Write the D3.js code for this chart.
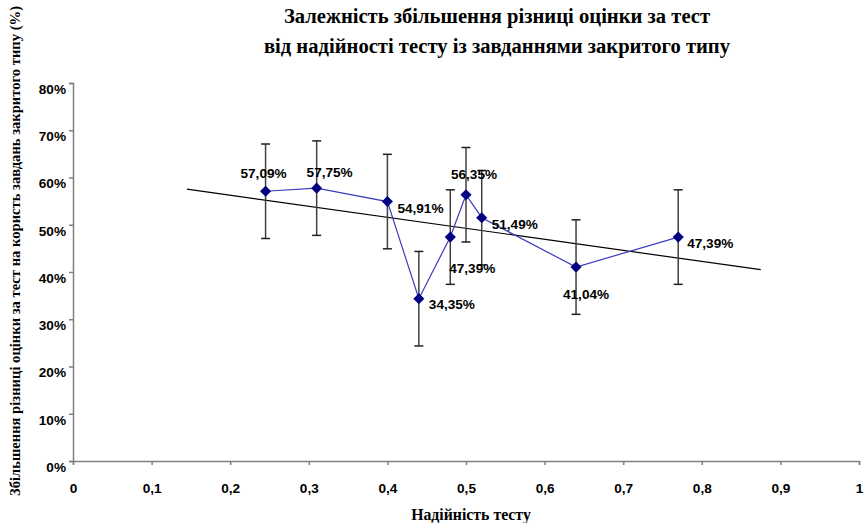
<!DOCTYPE html>
<html>
<head>
<meta charset="utf-8">
<script src="https://cdn.jsdelivr.net/npm/d3@7"></script>
<style>
  body { margin: 0; background: #fff; }
  svg { display: block; }
</style>
</head>
<body>
<svg id="chart" width="865" height="523"></svg>
<script>
// Test reliability (x) and gain in score difference, % (y)
const reliability = [0.245, 0.31, 0.40, 0.44, 0.48, 0.50, 0.52, 0.64, 0.77];
const gainPct = [57.09, 57.75, 54.91, 34.35, 47.39, 56.35, 51.49, 41.04, 47.39];
// Fixed-value error bars, percentage points
const errorPct = 10;
// Reliability range covered by the linear trend line
const trendRange = [0.145, 0.875];

const xTicks = [0, 0.1, 0.2, 0.3, 0.4, 0.5, 0.6, 0.7, 0.8, 0.9, 1];
const yTicks = [0, 10, 20, 30, 40, 50, 60, 70, 80];

const titleLines = [
  "Залежність збільшення різниці оцінки за тест",
  "від надійності тесту із завданнями закритого типу"
];
const xTitle = "Надійність тесту";
const yTitle = "Збільшення різниці оцінки за тест на користь завдань закритого типу (%)";

// Data label placement per point: [anchor, dx, dy] relative to the marker
const labelPlacement = [
  ["middle", -2, -18],
  ["middle", 13, -16],
  ["start", 10, 7],
  ["start", 10, 6],
  ["middle", 22, 31],
  ["middle", 8, -21],
  ["start", 10, 7],
  ["middle", 10, 27],
  ["start", 9, 6]
];

const svg = d3.select("#chart");
const sans = "'Liberation Sans', Arial, sans-serif";
const serif = "'Liberation Serif', 'Times New Roman', serif";

const x = d3.scaleLinear().domain([0, 1]).range([73, 859]);
const y = d3.scaleLinear().domain([0, 80]).range([461, 83]);

// Title
svg.append("g").selectAll("text").data(titleLines).join("text")
  .attr("x", 497)
  .attr("y", (d, i) => 23 + i * 30)
  .attr("text-anchor", "middle")
  .attr("font-family", serif)
  .attr("font-weight", "bold")
  .attr("font-size", 20.6)
  .attr("fill", "#000")
  .text(d => d);

// Axes
const fmtX = d => (d === 0 || d === 1) ? String(d) : d.toFixed(1).replace(".", ",");
const xAxis = svg.append("g")
  .attr("transform", `translate(0,${y(0)})`)
  .call(d3.axisBottom(x).tickValues(xTicks).tickSize(4).tickPadding(18).tickFormat(fmtX));
const yAxis = svg.append("g")
  .attr("transform", `translate(${x(0)},0)`)
  .call(d3.axisLeft(y).tickValues(yTicks).tickSize(4).tickPadding(3).tickFormat(d => d + "%"));

[xAxis, yAxis].forEach(g => {
  g.select(".domain").attr("stroke", "#808080").attr("stroke-width", 1.5);
  g.selectAll(".tick line").attr("stroke", "#808080").attr("stroke-width", 1.5);
  g.selectAll(".tick text")
    .attr("font-family", sans)
    .attr("font-weight", "bold")
    .attr("font-size", 13.6)
    .attr("fill", "#000");
});
yAxis.selectAll(".tick text").attr("transform", "translate(0,6)");

// Axis titles
svg.append("text")
  .attr("x", 471)
  .attr("y", 520)
  .attr("text-anchor", "middle")
  .attr("font-family", serif)
  .attr("font-weight", "bold")
  .attr("font-size", 15.8)
  .text(xTitle);

svg.append("text")
  .attr("transform", "translate(19.5,251) rotate(-90)")
  .attr("text-anchor", "middle")
  .attr("font-family", serif)
  .attr("font-weight", "bold")
  .attr("font-size", 14.6)
  .text(yTitle);

const points = reliability.map((r, i) => ({ r, v: gainPct[i], i }));

// Linear least-squares trend line
const mx = d3.mean(reliability), my = d3.mean(gainPct);
const slope = d3.sum(points, p => (p.r - mx) * (p.v - my)) / d3.sum(points, p => (p.r - mx) ** 2);
const trend = r => my + slope * (r - mx);
svg.append("line")
  .attr("x1", x(trendRange[0])).attr("y1", y(trend(trendRange[0])))
  .attr("x2", x(trendRange[1])).attr("y2", y(trend(trendRange[1])))
  .attr("stroke", "#000").attr("stroke-width", 1.2);

// Error bars
const eb = svg.append("g").attr("stroke", "#404040").attr("stroke-width", 1.5);
eb.selectAll("line.bar").data(points).join("line").attr("class", "bar")
  .attr("x1", d => x(d.r)).attr("x2", d => x(d.r))
  .attr("y1", d => y(d.v + errorPct)).attr("y2", d => y(d.v - errorPct));
["+", "-"].forEach(sign => {
  eb.selectAll(`line.cap${sign === "+" ? "t" : "b"}`).data(points).join("line")
    .attr("class", `cap${sign === "+" ? "t" : "b"}`)
    .attr("stroke", "#202020")
    .attr("x1", d => x(d.r) - 4.5).attr("x2", d => x(d.r) + 4.5)
    .attr("y1", d => y(sign === "+" ? d.v + errorPct : d.v - errorPct))
    .attr("y2", d => y(sign === "+" ? d.v + errorPct : d.v - errorPct));
});

// Series line
svg.append("path")
  .datum(points)
  .attr("fill", "none")
  .attr("stroke", "#3c3cbc")
  .attr("stroke-width", 1.2)
  .attr("d", d3.line().x(d => x(d.r)).y(d => y(d.v)));

// Diamond markers
const diamond = d3.symbol().type(d3.symbolSquare).size(62);
svg.append("g").selectAll("path").data(points).join("path")
  .attr("transform", d => `translate(${x(d.r)},${y(d.v)}) rotate(45)`)
  .attr("d", diamond)
  .attr("fill", "#000080");

// Data labels
svg.append("g").selectAll("text").data(points).join("text")
  .attr("x", d => x(d.r) + labelPlacement[d.i][1])
  .attr("y", d => y(d.v) + labelPlacement[d.i][2])
  .attr("dy", "0.35em")
  .attr("text-anchor", d => labelPlacement[d.i][0])
  .attr("font-family", sans)
  .attr("font-weight", "bold")
  .attr("font-size", 13.6)
  .attr("fill", "#000")
  .text(d => d.v.toFixed(2).replace(".", ",") + "%");
</script>
</body>
</html>
